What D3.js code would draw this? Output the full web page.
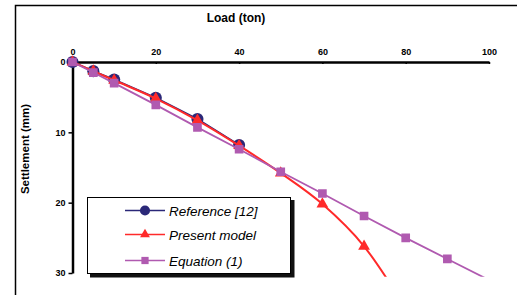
<!DOCTYPE html>
<html><head><meta charset="utf-8">
<script src="https://cdn.jsdelivr.net/npm/d3@7"></script>
<style>body{margin:0;background:#fff;}svg{display:block;font-family:"Liberation Sans",Arial,sans-serif;}</style>
</head><body>
<svg id="c" width="517" height="295"></svg>
<script>
const xTicks = [0, 20, 40, 60, 80, 100];
const yTicks = [0, 10, 20, 30];
const refLoad = [0, 5, 10, 20, 30, 40];
const refSettle = [0, 1.3, 2.5, 5.1, 8.1, 11.8];
const presLoad = [0, 5, 10, 20, 30, 40, 50, 60, 70, 80];
const presSettle = [0, 1.3, 2.6, 5.2, 8.3, 11.9, 15.8, 20.2, 26.2, 35];
const eqLoad = [0, 5, 10, 20, 30, 40, 50, 60, 70, 80, 90, 100];
const eqSettle = [0, 1.5, 3.0, 6.1, 9.3, 12.4, 15.6, 18.7, 21.9, 25.0, 28.0, 31.0];
const legendLabels = ["Reference [12]", "Present model", "Equation (1)"];

const svg = d3.select("#c");
const x = d3.scaleLinear().domain([0, 100]).range([72.5, 489]);
const y = d3.scaleLinear().domain([0, 30]).range([62, 273]);

// outer frame
svg.append("rect").attr("x", 15.5).attr("y", 5.5).attr("width", 520).attr("height", 300)
  .attr("fill", "none").attr("stroke", "#000").attr("stroke-width", 1.5);

// titles
svg.append("text").attr("x", 236).attr("y", 21.5).attr("text-anchor", "middle")
  .attr("font-size", 12).attr("font-weight", "bold").text("Load (ton)");
svg.append("text").attr("transform", "translate(29,149) rotate(-90)").attr("text-anchor", "middle")
  .attr("font-size", 11.5).attr("font-weight", "bold").text("Settlement (mm)");

// axes
const xAxis = svg.append("g").attr("transform", `translate(0,${y(0)})`)
  .call(d3.axisTop(x).tickValues(xTicks).tickSize(-2).tickPadding(7).tickSizeOuter(0));
const yAxis = svg.append("g").attr("transform", `translate(${x(0)},0)`)
  .call(d3.axisLeft(y).tickValues(yTicks).tickSize(4).tickPadding(3).tickSizeOuter(0));
[xAxis, yAxis].forEach(g => {
  g.select(".domain").attr("stroke", "#000").attr("stroke-width", 2.5);
  g.selectAll(".tick line").attr("stroke", "#000").attr("stroke-width", 1.5);
  g.selectAll(".tick text").attr("font-size", 9).attr("font-weight", "bold")
    .attr("font-family", "Liberation Sans, Arial, sans-serif").attr("fill", "#000");
});

// clip
svg.append("clipPath").attr("id", "clip").append("rect")
  .attr("x", x(0) - 10).attr("y", y(0) - 10).attr("width", x(100) - x(0) + 20).attr("height", y(30.55) - y(0) + 10);

const plot = svg.append("g").attr("clip-path", "url(#clip)");

const series = [
  { load: refLoad, settle: refSettle, color: "#2b2878", curve: d3.curveLinear, marker: "circle" },
  { load: presLoad, settle: presSettle, color: "#ff2a2a", curve: d3.curveMonotoneX, marker: "triangle" },
  { load: eqLoad, settle: eqSettle, color: "#b05ab0", curve: d3.curveLinear, marker: "square" }
];
const symSize = { circle: 115, triangle: 60, square: 75 };
const symType = { circle: d3.symbolCircle, triangle: d3.symbolTriangle, square: d3.symbolSquare };

series.forEach(s => {
  const pts = s.load.map((l, i) => [l, s.settle[i]]);
  plot.append("path").datum(pts)
    .attr("d", d3.line().x(d => x(d[0])).y(d => y(d[1])).curve(s.curve))
    .attr("fill", "none").attr("stroke", s.color).attr("stroke-width", s.marker === "triangle" ? 2 : 1.8);
  plot.selectAll(null).data(pts.filter(d => d[1] <= 30)).enter().append("path")
    .attr("transform", d => `translate(${x(d[0])},${y(d[1])})`)
    .attr("d", d3.symbol().type(symType[s.marker]).size(symSize[s.marker]))
    .attr("fill", s.color);
});

// legend
const lg = svg.append("g");
lg.append("rect").attr("x", 90).attr("y", 200).attr("width", 204.5).attr("height", 77.5).attr("fill", "#111");
lg.append("rect").attr("x", 87.5).attr("y", 197.5).attr("width", 203).attr("height", 76)
  .attr("fill", "#fff").attr("stroke", "#000").attr("stroke-width", 1);
const rowsY = [210.5, 234.5, 260.5];
series.forEach((s, i) => {
  lg.append("line").attr("x1", 125).attr("x2", 165).attr("y1", rowsY[i]).attr("y2", rowsY[i])
    .attr("stroke", s.color).attr("stroke-width", 1.5);
  lg.append("path").attr("transform", `translate(145,${rowsY[i]})`)
    .attr("d", d3.symbol().type(symType[s.marker]).size(symSize[s.marker] * 0.7)).attr("fill", s.color);
  lg.append("text").attr("x", 169).attr("y", rowsY[i] + 5).attr("font-size", 13.5)
    .attr("font-style", "italic").attr("fill", "#000").text(legendLabels[i]);
});
</script>
</body></html>
